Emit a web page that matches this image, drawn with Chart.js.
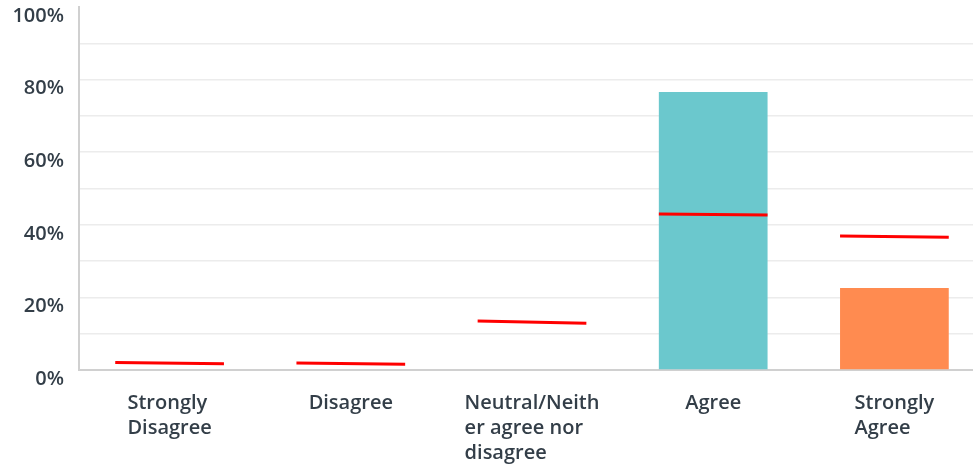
<!DOCTYPE html>
<html>
<head>
<meta charset="utf-8">
<script src="https://cdn.jsdelivr.net/npm/chart.js@4"></script>
<style>
  html, body { margin: 0; padding: 0; background: #fff; overflow: hidden; }
  #wrap { width: 985px; height: 468px; }
</style>
</head>
<body>
<div id="wrap"><canvas id="chart"></canvas></div>
<script>
// answer categories (split into the lines shown under each bar)
const categories = [
  ["Strongly", "Disagree"],
  ["Disagree"],
  ["Neutral/Neith", "er agree nor", "disagree"],
  ["Agree"],
  ["Strongly", "Agree"]
];
// share of responses, percent
const responses = [0, 0, 0, 76.6, 22.6];
const barColors = ["#6bc8cd", "#6bc8cd", "#6bc8cd", "#6bc8cd", "#ff8b50"];
// hand drawn red marks: value at left end and right end of each mark
const redLeft = [2.1, 1.9, 13.5, 43.0, 36.9];
const redRight = [1.7, 1.6, 12.9, 42.7, 36.6];
const yTicks = [0, 20, 40, 60, 80, 100];

const TEXT = "#333e48";
const FONT = "Open Sans";
const HALF = 0.3; // half the bar width, in category units

// red marks as a broken line on a hidden linear x axis
const redData = [];
redLeft.forEach((v, i) => {
  redData.push({ x: i - HALF, y: v });
  redData.push({ x: i + HALF, y: redRight[i] });
  redData.push({ x: i + HALF, y: null });
});

// draw the category labels, lines left aligned inside a centred block
const xLabelPlugin = {
  id: "xLabels",
  afterDraw(chart) {
    const { ctx, chartArea } = chart;
    const x = chart.scales.x;
    ctx.save();
    ctx.font = "600 20px '" + FONT + "'";
    ctx.fillStyle = TEXT;
    ctx.textAlign = "left";
    ctx.textBaseline = "middle";
    categories.forEach((lines, i) => {
      const cx = x.getPixelForValue(i);
      const w = Math.max(...lines.map((l) => ctx.measureText(l).width));
      lines.forEach((l, j) => {
        ctx.fillText(l, cx - w / 2, chartArea.bottom + 33 + j * 25);
      });
    });
    ctx.restore();
  }
};

Chart.defaults.font.family = FONT;

new Chart(document.getElementById("chart"), {
  type: "bar",
  data: {
    labels: categories.map((c) => c.join(" ")),
    datasets: [
      {
        type: "line",
        data: redData,
        xAxisID: "x2",
        yAxisID: "y",
        borderColor: "#ff0000",
        borderWidth: 3,
        pointRadius: 0,
        spanGaps: false,
        order: 0
      },
      {
        data: responses,
        backgroundColor: barColors,
        barPercentage: 0.6,
        categoryPercentage: 1,
        grouped: false,
        order: 1
      }
    ]
  },
  options: {
    responsive: true,
    maintainAspectRatio: false,
    animation: false,
    layout: { padding: { top: 7, bottom: 98, right: 0, left: 0 } },
    plugins: { legend: { display: false }, tooltip: { enabled: false } },
    scales: {
      x: {
        ticks: { display: false },
        grid: { display: false },
        border: { color: "#d0d0d0", width: 2 },
        afterFit: (scale) => { scale.height = 0; }
      },
      x2: { type: "linear", min: -0.5, max: 4.5, offset: false, display: false },
      y: {
        min: 0,
        max: 100,
        afterFit: (scale) => {
          scale.width = 79;
          scale.paddingTop = 0;
          scale.paddingBottom = 0;
        },
        ticks: {
          stepSize: 10,
          padding: 15,
          labelOffset: 9,
          color: TEXT,
          font: { size: 20, weight: "600" },
          callback: (v) => (yTicks.includes(v) ? v + "%" : "")
        },
        grid: {
          drawTicks: false,
          lineWidth: 1.5,
          color: (c) => (c.tick && c.tick.value === 100 ? "rgba(0,0,0,0)" : "#ececec")
        },
        border: { color: "#d0d0d0", width: 2 }
      }
    }
  },
  plugins: [xLabelPlugin]
});
</script>
</body>
</html>
